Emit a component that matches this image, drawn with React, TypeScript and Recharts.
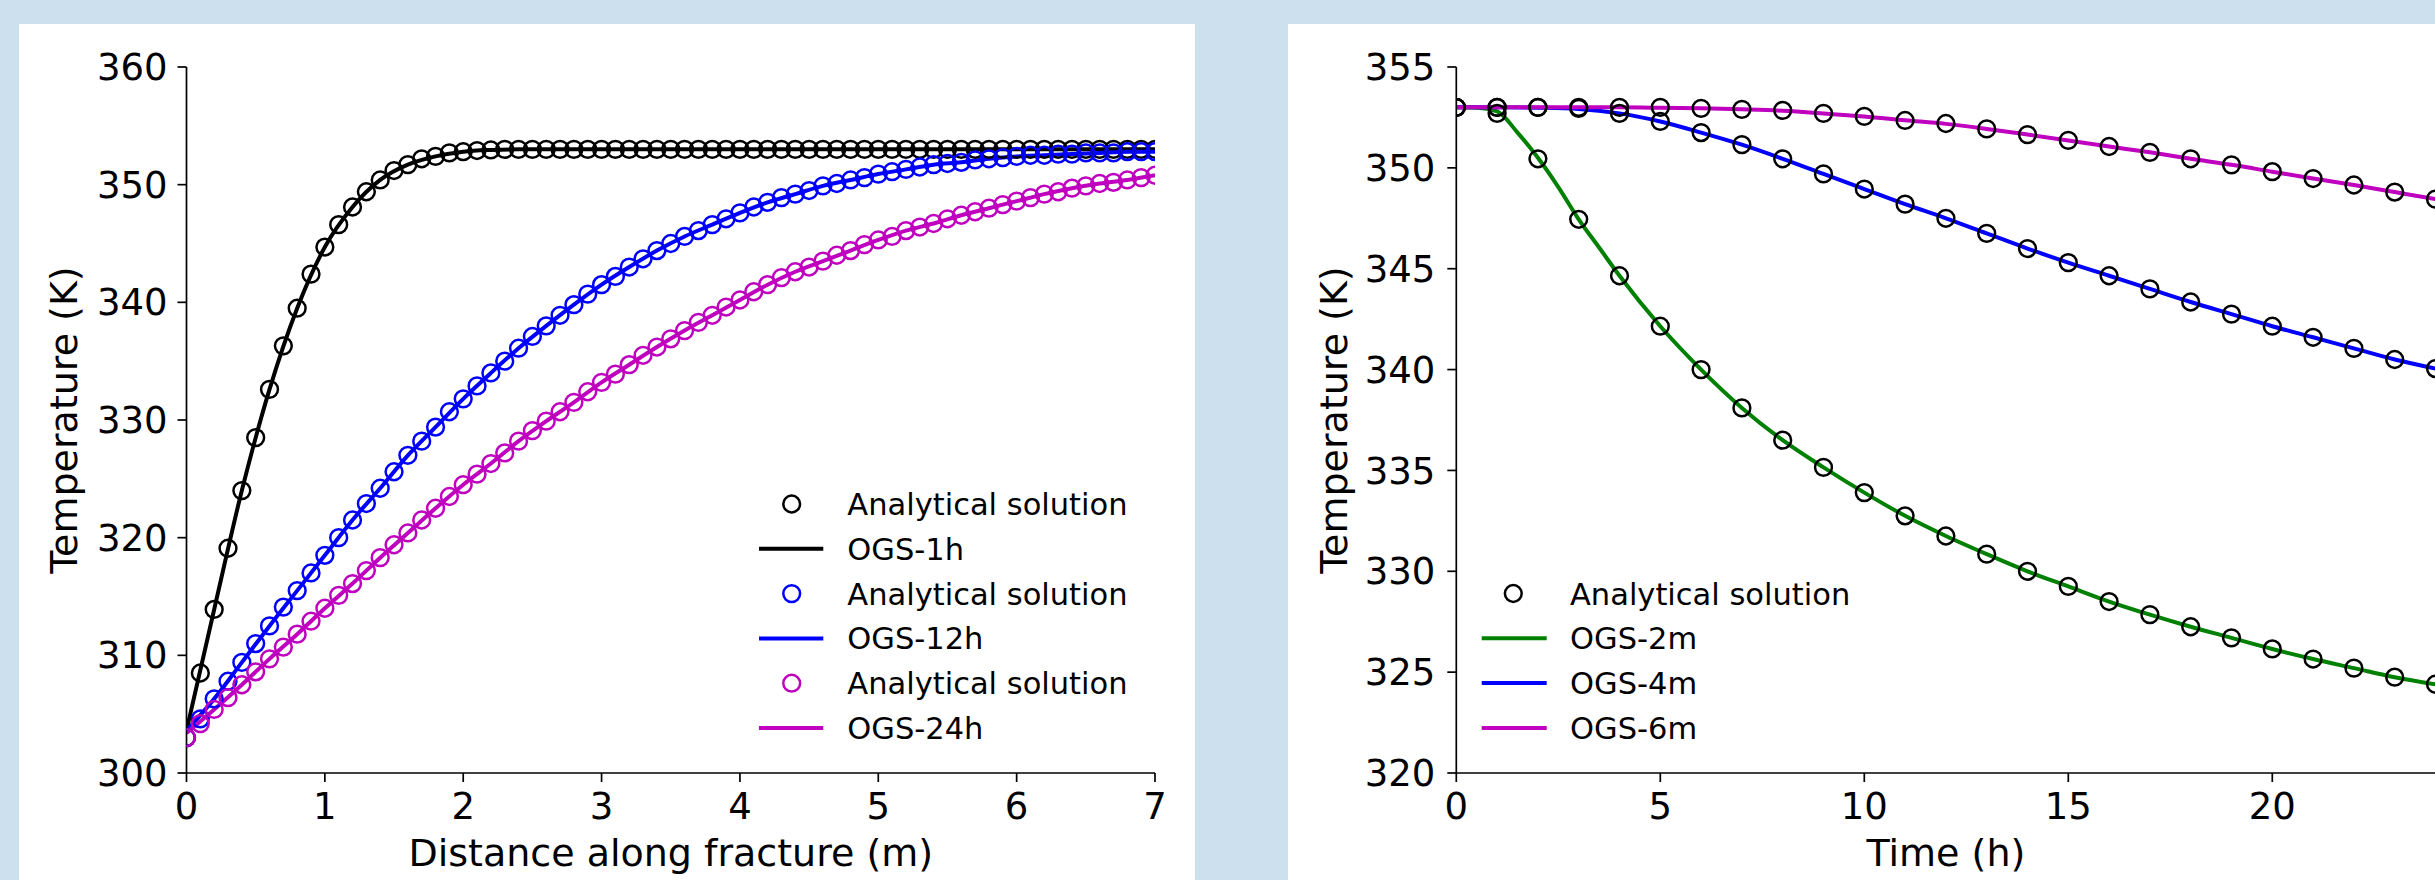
import React from 'react';
import { LineChart, Line, XAxis, YAxis, Legend } from 'recharts';

const FONT = '"DejaVu Sans", Verdana, sans-serif';
const TICK_FONT = 37;
const LABEL_FONT = 38;
const LEGEND_FONT = 30.5;

// ---------- Left panel: temperature along fracture ----------
const distanceM = [
  0, 0.1, 0.2, 0.3, 0.4, 0.5, 0.6, 0.7, 0.8, 0.9,
  1, 1.1, 1.2, 1.3, 1.4, 1.5, 1.6, 1.7, 1.8, 1.9,
  2, 2.1, 2.2, 2.3, 2.4, 2.5, 2.6, 2.7, 2.8, 2.9,
  3, 3.1, 3.2, 3.3, 3.4, 3.5, 3.6, 3.7, 3.8, 3.9,
  4, 4.1, 4.2, 4.3, 4.4, 4.5, 4.6, 4.7, 4.8, 4.9,
  5, 5.1, 5.2, 5.3, 5.4, 5.5, 5.6, 5.7, 5.8, 5.9,
  6, 6.1, 6.2, 6.3, 6.4, 6.5, 6.6, 6.7, 6.8, 6.9,
  7,
];
const analytical1h = [
  303.0, 308.5, 313.9, 319.1, 324.0, 328.5, 332.6, 336.3, 339.5, 342.4,
  344.7, 346.6, 348.1, 349.4, 350.4, 351.2, 351.7, 352.2, 352.4, 352.7,
  352.8, 352.9, 352.95, 353.0, 353.0, 353.0, 353.0, 353.0, 353.0, 353.0,
  353.0, 353.0, 353.0, 353.0, 353.0, 353.0, 353.0, 353.0, 353.0, 353.0,
  353.0, 353.0, 353.0, 353.0, 353.0, 353.0, 353.0, 353.0, 353.0, 353.0,
  353.0, 353.0, 353.0, 353.0, 353.0, 353.0, 353.0, 353.0, 353.0, 353.0,
  353.0, 353.0, 353.0, 353.0, 353.0, 353.0, 353.0, 353.0, 353.0, 353.0,
  353.0,
];
const analytical12h = [
  303.0, 304.6, 306.3, 307.8, 309.4, 311.0, 312.5, 314.1, 315.5, 317.0,
  318.5, 320.0, 321.5, 322.9, 324.2, 325.6, 327.0, 328.2, 329.4, 330.7,
  331.8, 332.9, 334.0, 335.0, 336.1, 337.1, 338.0, 338.9, 339.8, 340.7,
  341.5, 342.2, 343.0, 343.7, 344.4, 345.0, 345.6, 346.1, 346.6, 347.1,
  347.6, 348.1, 348.5, 348.9, 349.2, 349.5, 349.9, 350.1, 350.4, 350.6,
  350.9, 351.1, 351.3, 351.5, 351.7, 351.8, 351.9, 352.1, 352.2, 352.3,
  352.4, 352.5, 352.5, 352.6, 352.6, 352.7, 352.7, 352.7, 352.8, 352.8,
  352.8,
];
const analytical24h = [
  303.0, 304.2, 305.4, 306.4, 307.5, 308.6, 309.7, 310.7, 311.8, 312.9,
  314.0, 315.1, 316.1, 317.2, 318.3, 319.4, 320.4, 321.5, 322.5, 323.5,
  324.5, 325.4, 326.3, 327.2, 328.2, 329.1, 329.9, 330.7, 331.5, 332.4,
  333.2, 333.9, 334.7, 335.5, 336.2, 336.9, 337.6, 338.3, 338.9, 339.6,
  340.2, 340.9, 341.5, 342.1, 342.6, 343.0, 343.5, 344.0, 344.4, 344.9,
  345.3, 345.6, 346.1, 346.4, 346.7, 347.1, 347.4, 347.7, 348.0, 348.3,
  348.6, 348.9, 349.2, 349.4, 349.7, 349.9, 350.1, 350.2, 350.4, 350.6,
  350.8,
];

const ogsDistanceM = [
  0, 0.2, 0.4, 0.6, 0.8, 1, 1.2, 1.4, 1.6, 1.8,
  2, 2.2, 2.4, 2.6, 2.8, 3, 3.2, 3.4, 3.6, 3.8,
  4, 4.2, 4.4, 4.6, 4.8, 5, 5.2, 5.4, 5.6, 5.8,
  6, 6.2, 6.4, 6.6, 6.8, 7,
];
const ogs1h = [
  303.6, 313.9, 324.0, 332.6, 339.5, 344.7, 348.1, 350.4, 351.7, 352.4,
  352.8, 352.95, 353.0, 353.0, 353.0, 353.0, 353.0, 353.0, 353.0, 353.0,
  353.0, 353.0, 353.0, 353.0, 353.0, 353.0, 353.0, 353.0, 353.0, 353.0,
  353.0, 353.0, 353.0, 353.0, 353.0, 353.0,
];
const ogs12h = [
  303.6, 306.3, 309.4, 312.5, 315.5, 318.5, 321.5, 324.2, 327.0, 329.4,
  331.8, 334.0, 336.1, 338.0, 339.8, 341.5, 343.0, 344.4, 345.6, 346.6,
  347.6, 348.5, 349.2, 349.9, 350.4, 350.9, 351.3, 351.7, 351.9, 352.2,
  352.4, 352.5, 352.6, 352.7, 352.8, 352.8,
];
const ogs24h = [
  303.4, 305.4, 307.5, 309.7, 311.8, 314.0, 316.1, 318.3, 320.4, 322.5,
  324.5, 326.3, 328.2, 329.9, 331.5, 333.2, 334.7, 336.2, 337.6, 338.9,
  340.2, 341.5, 342.6, 343.5, 344.4, 345.3, 346.1, 346.7, 347.4, 348.0,
  348.6, 349.2, 349.7, 350.1, 350.4, 350.8,
];

const leftXTicks = [0, 1, 2, 3, 4, 5, 6, 7];
const leftYTicks = [300, 310, 320, 330, 340, 350, 360];

// ---------- Right panel: temperature over time ----------
const hours = [
  0, 1, 2, 3, 4, 5, 6, 7, 8, 9, 10, 11, 12,
  13, 14, 15, 16, 17, 18, 19, 20, 21, 22, 23, 24,
];
const analytical2m = [
  353.0, 352.7, 350.45, 347.45, 344.65, 342.15, 340.0, 338.1, 336.5, 335.15, 333.9, 332.75, 331.75,
  330.85, 330.0, 329.25, 328.5, 327.85, 327.25, 326.7, 326.15, 325.65, 325.2, 324.75, 324.4,
];
const analytical4m = [
  353.0, 353.0, 353.0, 352.95, 352.7, 352.3, 351.75, 351.15, 350.45, 349.7, 348.95, 348.2, 347.5,
  346.75, 346.0, 345.3, 344.65, 344.0, 343.35, 342.75, 342.15, 341.6, 341.05, 340.5, 340.05,
];
const analytical6m = [
  353.0, 353.0, 353.0, 353.0, 353.0, 353.0, 352.95, 352.9, 352.85, 352.7, 352.55, 352.35, 352.2,
  351.93, 351.65, 351.36, 351.06, 350.77, 350.45, 350.15, 349.81, 349.47, 349.15, 348.8, 348.45,
];

const ogs2mHours = [
  0, 0.5, 1, 1.5, 2, 2.5, 3, 3.5, 4, 5, 6, 7, 8, 9, 10, 11, 12,
  13, 14, 15, 16, 17, 18, 19, 20, 21, 22, 23, 24,
];
const ogs2m = [
  353.0, 352.98, 352.8, 351.75, 350.5, 349.05, 347.45, 346.05, 344.65, 342.15, 340.0, 338.1, 336.5,
  335.15, 333.9, 332.75, 331.75, 330.85, 330.0, 329.25, 328.5, 327.85, 327.25, 326.7, 326.15,
  325.65, 325.2, 324.75, 324.4,
];
const ogs4m = [
  353.0, 353.0, 352.98, 352.92, 352.7, 352.3, 351.75, 351.15, 350.45, 349.7, 348.95, 348.2, 347.5,
  346.75, 346.0, 345.3, 344.65, 344.0, 343.35, 342.75, 342.15, 341.6, 341.05, 340.5, 340.05,
];
const ogs6m = [
  353.0, 353.0, 353.0, 353.0, 353.0, 352.98, 352.95, 352.9, 352.83, 352.7, 352.55, 352.36, 352.18,
  351.93, 351.65, 351.36, 351.06, 350.77, 350.45, 350.15, 349.81, 349.47, 349.15, 348.8, 348.45,
];

const rightXTicks = [0, 5, 10, 15, 20];
const rightYTicks = [320, 325, 330, 335, 340, 345, 350, 355];

// ---------- colours / legend entries ----------
const BLACK = '#000000';
const BLUE = '#0000ff';
const MAGENTA = '#bf00bf';
const GREEN = '#008000';

type LegendItem = { label: string; color: string; kind: 'marker' | 'line' };
const leftLegendItems: LegendItem[] = [
  { label: 'Analytical solution', color: BLACK, kind: 'marker' },
  { label: 'OGS-1h', color: BLACK, kind: 'line' },
  { label: 'Analytical solution', color: BLUE, kind: 'marker' },
  { label: 'OGS-12h', color: BLUE, kind: 'line' },
  { label: 'Analytical solution', color: MAGENTA, kind: 'marker' },
  { label: 'OGS-24h', color: MAGENTA, kind: 'line' },
];
const rightLegendItems: LegendItem[] = [
  { label: 'Analytical solution', color: BLACK, kind: 'marker' },
  { label: 'OGS-2m', color: GREEN, kind: 'line' },
  { label: 'OGS-4m', color: BLUE, kind: 'line' },
  { label: 'OGS-6m', color: MAGENTA, kind: 'line' },
];

const toPoints = (xs: number[], ys: number[]) => xs.map((x, i) => ({ x, y: ys[i] }));

const MARKER_R = 8.4;
const MARKER_W = 2.5;
const LINE_W = 4;
const SPINE = { stroke: '#000', strokeWidth: 1.7 };
const tickStyle = { fill: '#000', fontSize: TICK_FONT, fontFamily: FONT };

function makeLegend(
  items: LegendItem[],
  w: number,
  h: number,
  g: { y0: number; dy: number; markerX: number; lineX1: number; lineX2: number; textX: number }
) {
  return () => (
    <svg width={w} height={h} style={{ display: 'block' }}>
      {items.map((it, i) => {
        const cy = g.y0 + i * g.dy;
        return (
          <g key={i}>
            {it.kind === 'marker' ? (
              <circle cx={g.markerX} cy={cy} r={MARKER_R} fill="none" stroke={it.color} strokeWidth={MARKER_W} />
            ) : (
              <line x1={g.lineX1} x2={g.lineX2} y1={cy} y2={cy} stroke={it.color} strokeWidth={LINE_W} />
            )}
            <text x={g.textX} y={cy + 11} fontSize={LEGEND_FONT} fontFamily={FONT} fill="#000">
              {it.label}
            </text>
          </g>
        );
      })}
    </svg>
  );
}

const xLabel = (text: string, fallback: { x: number; y: number; w: number }) => ({
  content: (p: any) => {
    const vb = p && p.viewBox && p.viewBox.width ? p.viewBox : { x: fallback.x, y: fallback.y, width: fallback.w };
    return (
      <text x={vb.x + vb.width / 2} y={vb.y + 93} textAnchor="middle" fontSize={LABEL_FONT} fontFamily={FONT} fill="#000">
        {text}
      </text>
    );
  },
});

const yLabel = (text: string, fallback: { x: number; y: number; w: number; h: number }) => ({
  content: (p: any) => {
    const vb = p && p.viewBox && p.viewBox.height ? p.viewBox : { x: fallback.x, y: fallback.y, width: fallback.w, height: fallback.h };
    const bx = vb.x + vb.width - 109.5;
    const cy = vb.y + vb.height / 2;
    return (
      <text x={bx} y={cy} transform={`rotate(-90, ${bx}, ${cy})`} textAnchor="middle" fontSize={LABEL_FONT} fontFamily={FONT} fill="#000">
        {text}
      </text>
    );
  },
});

function markerSeries(xs: number[], ys: number[], color: string, key: string) {
  return (
    <Line
      key={key}
      xAxisId="b"
      yAxisId="l"
      data={toPoints(xs, ys)}
      dataKey="y"
      type="linear"
      stroke="none"
      dot={{ r: MARKER_R, stroke: color, strokeWidth: MARKER_W, fill: 'none' }}
      activeDot={false}
      legendType="none"
      isAnimationActive={false}
    />
  );
}

function lineSeries(xs: number[], ys: number[], color: string, key: string) {
  return (
    <Line
      key={key}
      xAxisId="b"
      yAxisId="l"
      data={toPoints(xs, ys)}
      dataKey="y"
      type="monotone"
      stroke={color}
      strokeWidth={LINE_W}
      dot={false}
      activeDot={false}
      legendType="none"
      isAnimationActive={false}
    />
  );
}

const L_W = 1176;
const L_H = 856;
const R_W = 1200;
const R_H = 856;

export default function App() {
  return (
    <div
      style={{
        position: 'fixed',
        left: 0,
        top: 0,
        width: 2435,
        height: 880,
        overflow: 'hidden',
        background: '#cde0ed',
      }}
    >
      <div style={{ position: 'absolute', left: 19, top: 24, width: 1176, height: 856, background: '#fff' }} />
      <div style={{ position: 'absolute', left: 1288, top: 24, width: 1200, height: 856, background: '#fff' }} />

      {/* Left chart */}
      <div style={{ position: 'absolute', left: 19, top: 24 }}>
        <LineChart width={L_W} height={L_H} margin={{ top: 43, right: 40, left: 0, bottom: 0 }}>
          <XAxis
            xAxisId="b"
            dataKey="x"
            type="number"
            domain={[0, 7]}
            ticks={leftXTicks}
            allowDataOverflow
            height={107}
            tick={tickStyle}
            tickSize={9}
            tickMargin={11}
            tickLine={SPINE}
            axisLine={SPINE}
            label={xLabel('Distance along fracture (m)', { x: 167.5, y: 749, w: 968.5 })}
          />
          <XAxis xAxisId="t" orientation="top" dataKey="x" type="number" domain={[0, 7]} allowDataOverflow height={0} tick={false} tickLine={false} axisLine={SPINE} />
          <YAxis
            yAxisId="l"
            type="number"
            domain={[300, 360]}
            ticks={leftYTicks}
            allowDataOverflow
            width={167.5}
            tick={tickStyle}
            tickSize={9}
            tickMargin={10}
            tickLine={SPINE}
            axisLine={SPINE}
            label={yLabel('Temperature (K)', { x: 0, y: 43, w: 167.5, h: 706 })}
          />
          <YAxis yAxisId="r" orientation="right" type="number" domain={[300, 360]} allowDataOverflow width={0} tick={false} tickLine={false} axisLine={SPINE} />
          {markerSeries(distanceM, analytical1h, BLACK, 'a1')}
          {lineSeries(ogsDistanceM, ogs1h, BLACK, 'o1')}
          {markerSeries(distanceM, analytical12h, BLUE, 'a12')}
          {lineSeries(ogsDistanceM, ogs12h, BLUE, 'o12')}
          {markerSeries(distanceM, analytical24h, MAGENTA, 'a24')}
          {lineSeries(ogsDistanceM, ogs24h, MAGENTA, 'o24')}
          <Legend
            layout="vertical"
            align="center"
            verticalAlign="middle"
            wrapperStyle={{ position: 'absolute', left: 0, top: 0, width: L_W, height: L_H, margin: 0 }}
            content={makeLegend(leftLegendItems, L_W, L_H, {
              y0: 480,
              dy: 44.8,
              markerX: 772.7,
              lineX1: 740,
              lineX2: 804.3,
              textX: 828.3,
            })}
          />
        </LineChart>
      </div>

      {/* Right chart */}
      <div style={{ position: 'absolute', left: 1288, top: 24 }}>
        <LineChart width={R_W} height={R_H} margin={{ top: 43, right: 52.5, left: 0, bottom: 0 }}>
          <XAxis
            xAxisId="b"
            dataKey="x"
            type="number"
            domain={[0, 24]}
            ticks={rightXTicks}
            allowDataOverflow
            height={107}
            tick={tickStyle}
            tickSize={9}
            tickMargin={11}
            tickLine={SPINE}
            axisLine={SPINE}
            label={xLabel('Time (h)', { x: 168.3, y: 749, w: 979.2 })}
          />
          <XAxis xAxisId="t" orientation="top" dataKey="x" type="number" domain={[0, 24]} allowDataOverflow height={0} tick={false} tickLine={false} axisLine={SPINE} />
          <YAxis
            yAxisId="l"
            type="number"
            domain={[320, 355]}
            ticks={rightYTicks}
            allowDataOverflow
            width={168.3}
            tick={tickStyle}
            tickSize={9}
            tickMargin={12}
            tickLine={SPINE}
            axisLine={SPINE}
            label={yLabel('Temperature (K)', { x: 0, y: 43, w: 168.3, h: 706 })}
          />
          <YAxis yAxisId="r" orientation="right" type="number" domain={[320, 355]} allowDataOverflow width={0} tick={false} tickLine={false} axisLine={SPINE} />
          {markerSeries(hours, analytical2m, BLACK, 'a2')}
          {lineSeries(ogs2mHours, ogs2m, GREEN, 'o2')}
          {markerSeries(hours, analytical4m, BLACK, 'a4')}
          {lineSeries(hours, ogs4m, BLUE, 'o4')}
          {markerSeries(hours, analytical6m, BLACK, 'a6')}
          {lineSeries(hours, ogs6m, MAGENTA, 'o6')}
          <Legend
            layout="vertical"
            align="center"
            verticalAlign="middle"
            wrapperStyle={{ position: 'absolute', left: 0, top: 0, width: R_W, height: R_H, margin: 0 }}
            content={makeLegend(rightLegendItems, R_W, R_H, {
              y0: 569.5,
              dy: 44.8,
              markerX: 225.3,
              lineX1: 193.7,
              lineX2: 258.7,
              textX: 282,
            })}
          />
        </LineChart>
      </div>
    </div>
  );
}
